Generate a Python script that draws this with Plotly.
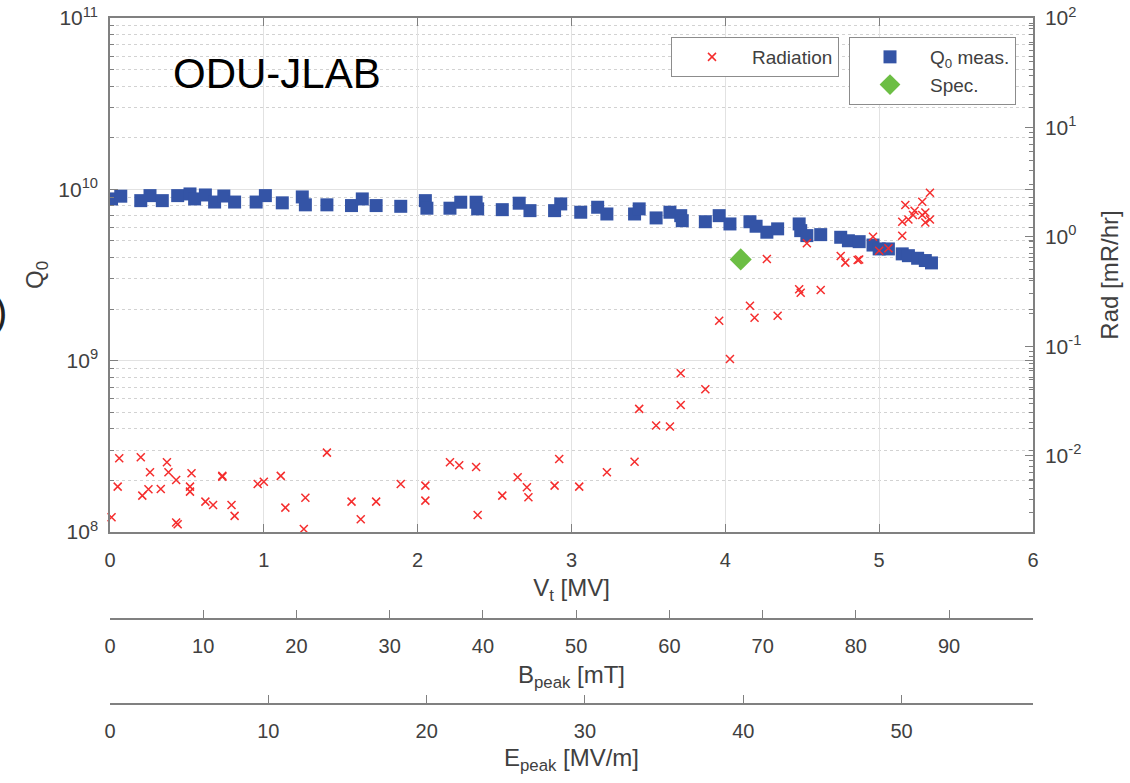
import math
import plotly.graph_objects as go

# ---------------- data ----------------
v_q = [0.01, 0.07, 0.20, 0.26, 0.34, 0.44, 0.52, 0.55, 0.62, 0.68, 0.74, 0.81, 0.95, 1.01,
       1.12, 1.25, 1.27, 1.41, 1.57, 1.64, 1.73, 1.89, 2.05, 2.06, 2.21, 2.28, 2.38, 2.39,
       2.55, 2.66, 2.73, 2.89, 2.93, 3.06, 3.17, 3.23, 3.41, 3.44, 3.55, 3.64, 3.71, 3.72,
       3.87, 3.96, 4.03, 4.16, 4.20, 4.27, 4.34, 4.48, 4.49, 4.53, 4.62, 4.75, 4.80, 4.87,
       4.96, 5.00, 5.06, 5.15, 5.19, 5.25, 5.30, 5.34]
q0 = [8.79e9, 9.12e9, 8.59e9, 9.19e9, 8.59e9, 9.19e9, 9.40e9, 8.79e9, 9.27e9, 8.43e9, 9.14e9,
      8.43e9, 8.43e9, 9.19e9, 8.34e9, 9.03e9, 8.12e9, 8.12e9, 8.04e9, 8.79e9, 8.04e9, 7.96e9,
      8.59e9, 7.76e9, 7.76e9, 8.41e9, 8.41e9, 7.69e9, 7.61e9, 8.30e9, 7.51e9, 7.51e9, 8.22e9,
      7.35e9, 7.86e9, 7.18e9, 7.18e9, 7.69e9, 6.81e9, 7.35e9, 7.02e9, 6.56e9, 6.47e9, 7.02e9,
      6.28e9, 6.47e9, 6.09e9, 5.62e9, 5.88e9, 6.28e9, 5.74e9, 5.37e9, 5.44e9, 5.25e9, 5.01e9,
      4.95e9, 4.73e9, 4.49e9, 4.49e9, 4.20e9, 4.10e9, 3.96e9, 3.84e9, 3.72e9]

v_rad = [0.01, 0.05, 0.06, 0.20, 0.21, 0.25, 0.26, 0.33, 0.37, 0.38, 0.43, 0.43, 0.44, 0.52,
         0.52, 0.53, 0.62, 0.67, 0.73, 0.73, 0.79, 0.81, 0.96, 1.00, 1.11, 1.14, 1.26, 1.27,
         1.41, 1.57, 1.63, 1.73, 1.89, 2.05, 2.05, 2.21, 2.27, 2.38, 2.39, 2.55, 2.65, 2.71,
         2.72, 2.89, 2.92, 3.05, 3.17, 3.23, 3.41, 3.44, 3.55, 3.64, 3.71, 3.71, 3.87, 3.96,
         4.03, 4.16, 4.19, 4.27, 4.34, 4.48, 4.49, 4.53, 4.62, 4.75, 4.78, 4.86, 4.87, 4.96,
         5.00, 5.06, 5.15, 5.15, 5.17, 5.19, 5.22, 5.23, 5.28, 5.28, 5.30, 5.30, 5.33, 5.33]
rad = [0.00273, 0.00520, 0.00944, 0.00964, 0.00430, 0.00492, 0.00703, 0.00495, 0.00869, 0.00703,
       0.00598, 0.00244, 0.00235, 0.00520, 0.00468, 0.00689, 0.00379, 0.00353, 0.00641, 0.00652,
       0.00353, 0.00281, 0.00550, 0.00577, 0.00652, 0.00334, 0.00213, 0.00412, 0.01064, 0.00379,
       0.00262, 0.00379, 0.00550, 0.00531, 0.00387, 0.00869, 0.00815, 0.00787, 0.00286, 0.00430,
       0.00634, 0.00513, 0.00416, 0.00531, 0.00931, 0.00520, 0.00199, 0.00703, 0.00879, 0.0267,
       0.0188, 0.0184, 0.0290, 0.0565, 0.0404, 0.171, 0.0764, 0.234, 0.182, 0.627, 0.190, 0.331,
       0.308, 0.873, 0.326, 0.668, 0.580, 0.614, 0.620, 1.00, 0.746, 0.785, 1.02, 1.37, 1.95,
       1.44, 1.58, 1.73, 1.58, 2.09, 1.67, 1.35, 2.53, 1.44]

spec_v = [4.10]
spec_q = [3.9e9]

v_ticks = [0, 1, 2, 3, 4, 5, 6]
b_ticks = [0, 10, 20, 30, 40, 50, 60, 70, 80, 90]
e_ticks = [0, 10, 20, 30, 40, 50]
q_ticks = [1e8, 1e9, 1e10, 1e11]
q_ticktext = ["10<sup>8</sup>", "10<sup>9</sup>", "10<sup>10</sup>", "10<sup>11</sup>"]
r_ticks = [1e-2, 1e-1, 1e0, 1e1, 1e2]
r_ticktext = ["10<sup>-2</sup>", "10<sup>-1</sup>", "10<sup>0</sup>", "10<sup>1</sup>", "10<sup>2</sup>"]

# ---------------- layout helpers ----------------
W, H = 1130, 783
ML, MR, MT, MB = 110, 97, 18, 20
PW = W - ML - MR
PH = H - MT - MB


def pyf(p):  # page y pixel -> paper fraction
    return (H - MB - p) / PH


def pxf(p):  # page x pixel -> paper fraction
    return (p - ML) / PW


q_minor = [k * 10 ** n for n in range(8, 11) for k in range(2, 10)]
r_minor = [k * 10 ** n for n in range(-3, 2) for k in range(2, 10) if k * 10 ** n >= 0.002]

AX = "#808080"
TXT = "#404040"
FONT = "Liberation Sans, Arial, Helvetica, sans-serif"
tickfont = dict(family=FONT, size=20, color=TXT)
ytickfont = dict(family=FONT, size=21, color=TXT)
titlefont = dict(family=FONT, size=24, color=TXT)
legfont = dict(family=FONT, size=19, color=TXT)

RED = "rgb(245,45,45)"
BLUE = "rgb(52,84,166)"
GREEN = "rgb(108,190,68)"

fig = go.Figure()
fig.add_trace(go.Scatter(
    x=v_rad, y=rad, mode="markers", name="Radiation", xaxis="x", yaxis="y2",
    marker=dict(symbol="x-thin", size=8, line=dict(color=RED, width=1.5)),
    cliponaxis=False, legend="legend"))
fig.add_trace(go.Scatter(
    x=v_q, y=q0, mode="markers", name="Q<sub>0</sub> meas.", xaxis="x", yaxis="y",
    marker=dict(symbol="square", size=13, color=BLUE), legend="legend2"))
fig.add_trace(go.Scatter(
    x=spec_v, y=spec_q, mode="markers", name="Spec.", xaxis="x", yaxis="y",
    marker=dict(symbol="diamond", size=17, color=GREEN), legend="legend2"))
# carriers for the extra field axes
fig.add_trace(go.Scatter(x=[None], y=[None], xaxis="x2", yaxis="y", showlegend=False, hoverinfo="skip"))
fig.add_trace(go.Scatter(x=[None], y=[None], xaxis="x3", yaxis="y", showlegend=False, hoverinfo="skip"))

ydom0 = pyf(532)

fig.update_layout(
    width=W, height=H,
    margin=dict(l=ML, r=MR, t=MT, b=MB, autoexpand=False),
    paper_bgcolor="white", plot_bgcolor="white",
    font=dict(family=FONT, size=18, color=TXT),
    xaxis=dict(range=[0, 6], domain=[0, 1], anchor="y", tickmode="array", tickvals=v_ticks,
               ticks="inside", ticklen=8, tickwidth=1.2, tickcolor=AX,
               showline=True, linecolor=AX, linewidth=1.5, mirror="ticks",
               showgrid=True, gridcolor="#e2e2e2", gridwidth=1, zeroline=False,
               tickfont=tickfont, ticklabelstandoff=9, ticklabeloverflow="allow",
               title=dict(text="V<sub>t</sub> [MV]", font=titlefont, standoff=9)),
    xaxis2=dict(range=[0, 99], overlaying="x", anchor="free", position=pyf(619), side="bottom",
                tickmode="array", tickvals=b_ticks, ticks="inside", ticklen=8, tickwidth=1.2,
                tickcolor=AX, showline=True, linecolor=AX, linewidth=1.5, showgrid=False,
                zeroline=False, tickfont=tickfont, ticklabelstandoff=9, ticklabeloverflow="allow",
                title=dict(text="B<sub>peak</sub> [mT]", font=titlefont, standoff=9)),
    xaxis3=dict(range=[0, 58.3], overlaying="x", anchor="free", position=pyf(704), side="bottom",
                tickmode="array", tickvals=e_ticks, ticks="inside", ticklen=8, tickwidth=1.2,
                tickcolor=AX, showline=True, linecolor=AX, linewidth=1.5, showgrid=False,
                zeroline=False, tickfont=tickfont, ticklabelstandoff=9, ticklabeloverflow="allow",
                title=dict(text="E<sub>peak</sub> [MV/m]", font=titlefont, standoff=7)),
    yaxis=dict(type="log", range=[8, 11], domain=[ydom0, 1], anchor="x",
               tickmode="array", tickvals=q_ticks, ticktext=q_ticktext,
               ticks="inside", ticklen=8, tickwidth=1.2, tickcolor=AX,
               showline=True, linecolor=AX, linewidth=1.5, mirror="ticks",
               showgrid=True, gridcolor="#e2e2e2", gridwidth=1, zeroline=False,
               minor=dict(tickmode="array", tickvals=q_minor, ticks="inside", ticklen=4,
                          tickcolor=AX, showgrid=True, gridcolor="#d2d2d2", griddash="dot",
                          gridwidth=1),
               tickfont=ytickfont, ticklabelstandoff=6, ticklabeloverflow="allow",
               title=dict(text="Q<sub>0</sub>", font=titlefont, standoff=8)),
    yaxis2=dict(type="log", range=[math.log10(0.002), 2], overlaying="y", side="right", anchor="x",
                tickmode="array", tickvals=r_ticks, ticktext=r_ticktext,
                ticks="inside", ticklen=8, tickwidth=1.2, tickcolor=AX,
                showline=True, linecolor=AX, linewidth=1.5, showgrid=False, zeroline=False,
                minor=dict(tickmode="array", tickvals=r_minor, ticks="inside", ticklen=4,
                           tickcolor=AX, showgrid=False),
                tickfont=ytickfont, ticklabelstandoff=6, ticklabeloverflow="allow",
                title=dict(text="Rad [mR/hr]", font=titlefont, standoff=21)),
    legend=dict(x=pxf(839), y=pyf(37), xanchor="right", yanchor="top",
                bgcolor="white", bordercolor="#8c8c8c", borderwidth=1, itemwidth=70,
                font=legfont),
    legend2=dict(x=pxf(1016), y=pyf(37), xanchor="right", yanchor="top",
                 bgcolor="white", bordercolor="#8c8c8c", borderwidth=1, itemwidth=70,
                 font=legfont),
    annotations=[
        dict(text="ODU-JLAB", xref="paper", yref="paper", x=pxf(171), y=pyf(73),
             xanchor="left", yanchor="middle", showarrow=False,
             font=dict(family=FONT, size=42, color="black")),
        dict(text=")", xref="paper", yref="paper", x=pxf(9), y=pyf(312),
             xanchor="right", yanchor="middle", showarrow=False,
             font=dict(family=FONT, size=40, color="#222222")),
    ],
)

# remove the default 8 px page margin so the figure fills the window exactly
fig.write_html("out.html", config={"displayModeBar": False},
               post_script="document.body.style.margin='0px';")
